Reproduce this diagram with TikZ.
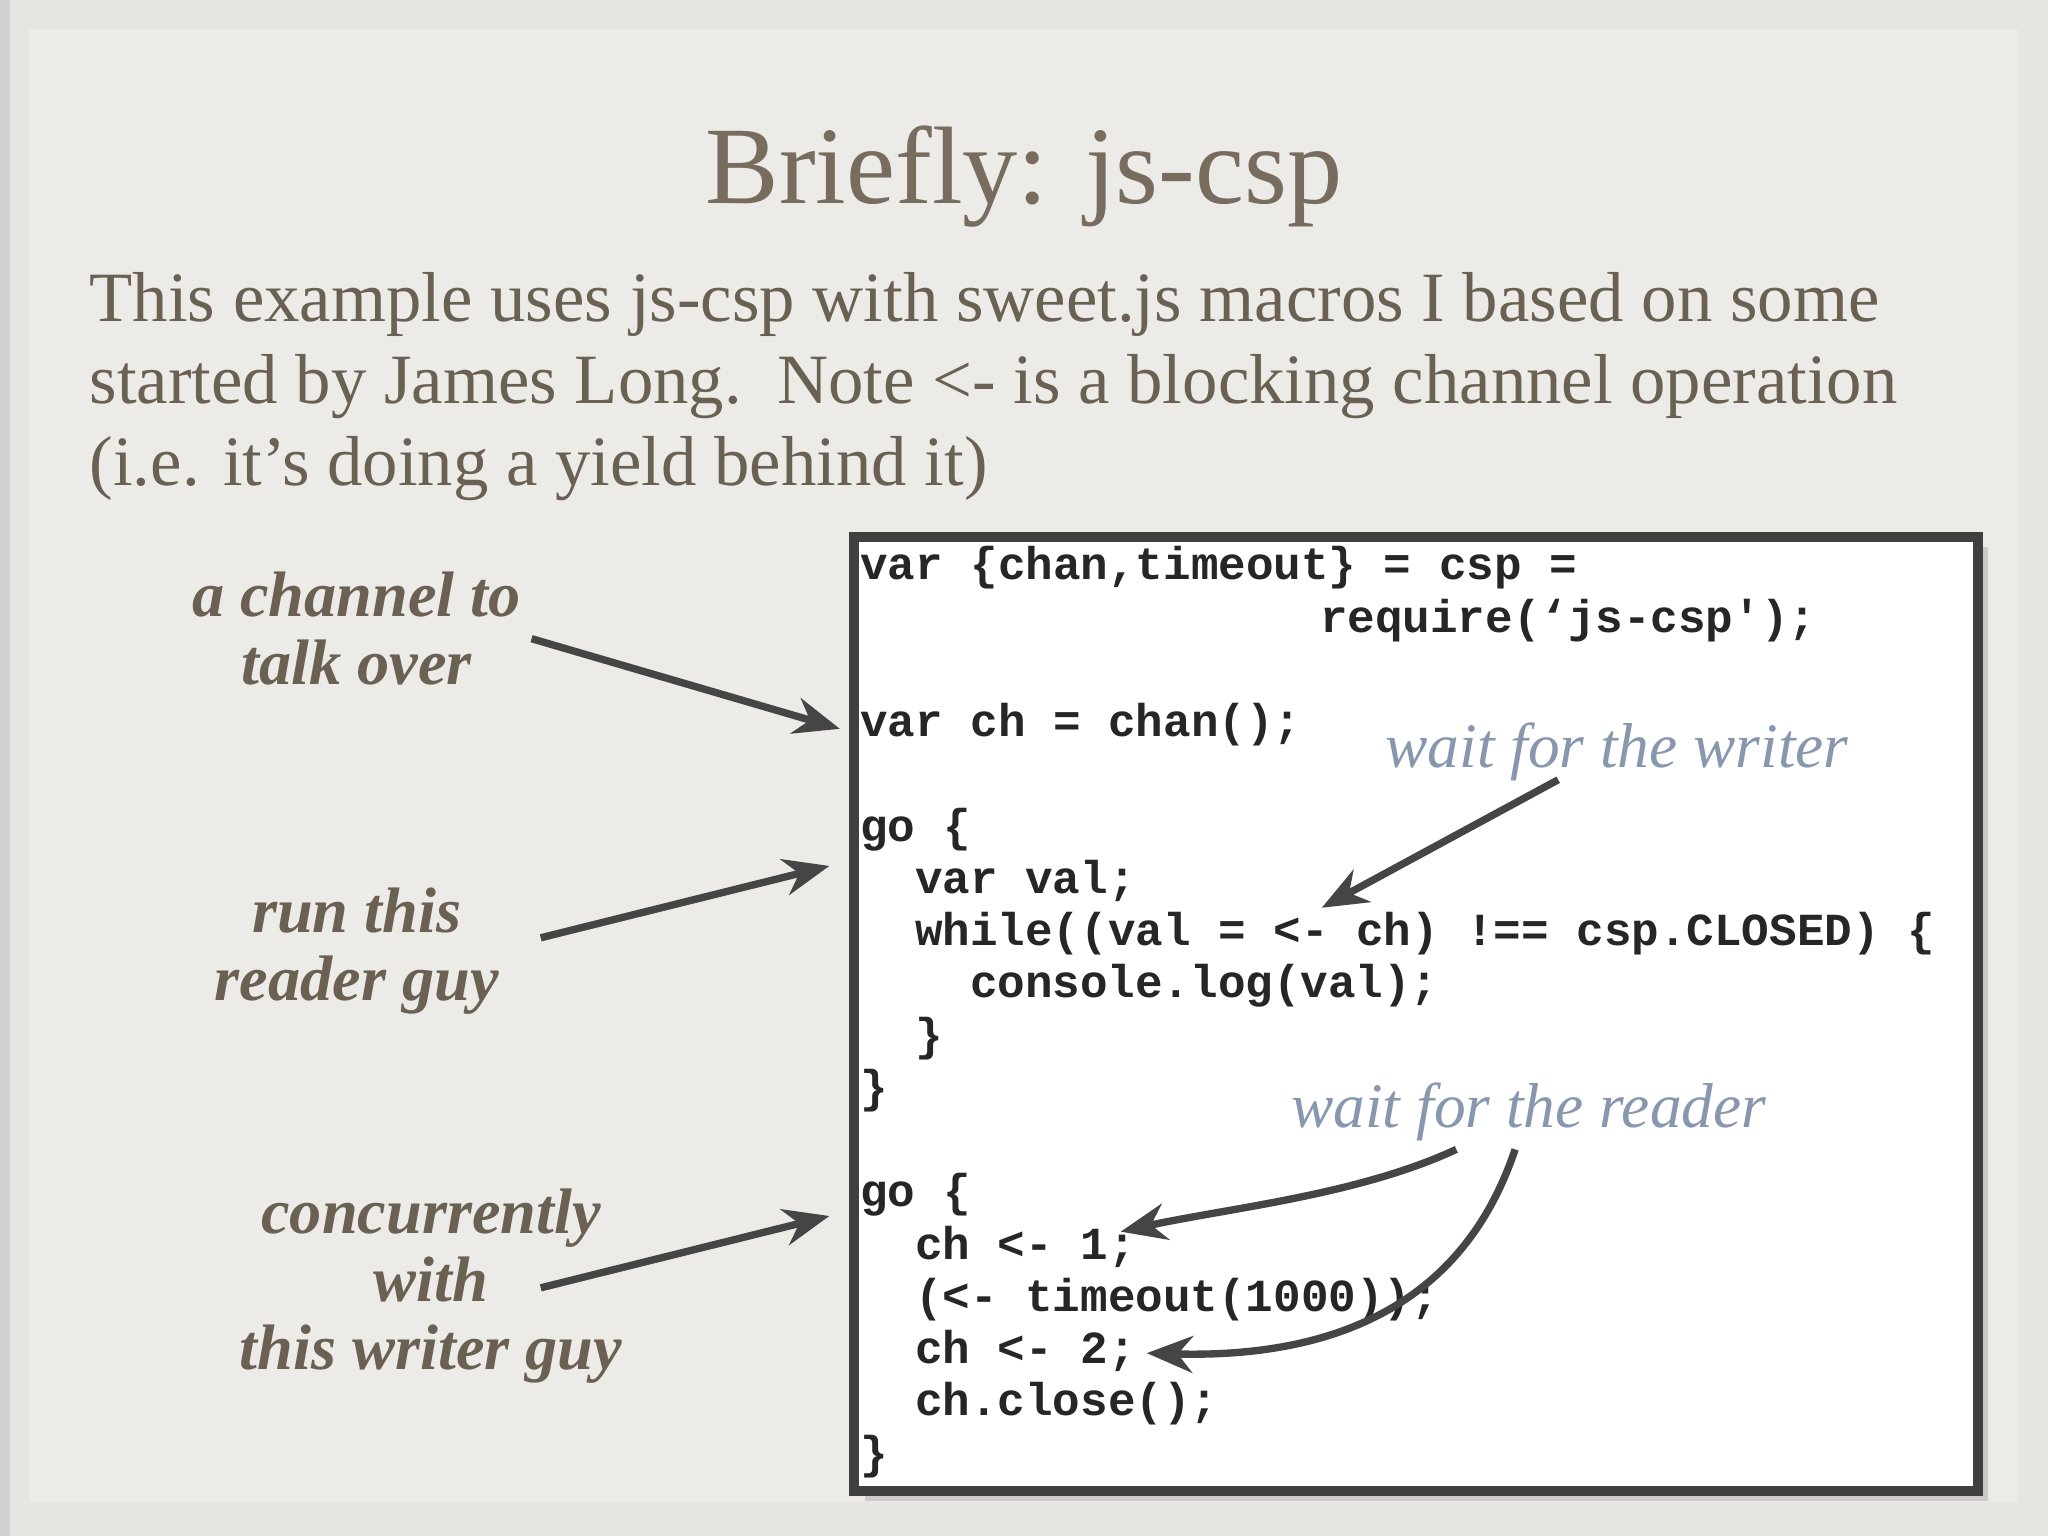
\documentclass[tikz,border=0pt]{standalone}
\usepackage{fontspec}
\setmainfont{Liberation Serif}
\newfontfamily\codefont{Liberation Mono}
\usetikzlibrary{arrows.meta,shadows}
\definecolor{bg}{HTML}{E6E5E1}
\definecolor{bginner}{HTML}{ECEBE8}
\definecolor{titlec}{HTML}{776C5E}
\definecolor{labc}{HTML}{6A6153}
\definecolor{bluec}{HTML}{8797AE}
\definecolor{arr}{HTML}{454545}
\tikzset{
  codeline/.style={anchor=base west,inner sep=0pt,font=\codefont\bfseries\fontsize{10pt}{11pt}\selectfont,text=black!85},
  leftlab/.style={align=center,text=labc,font=\bfseries\itshape\fontsize{14pt}{14.8pt}\selectfont},
  bluelab/.style={anchor=base west,inner sep=0pt,text=bluec,font=\itshape\fontsize{13.8pt}{16pt}\selectfont},
  arrow/.style={draw=arr,line width=1.6pt,-{Stealth[length=10pt,width=8pt]}}
}
\begin{document}
\begin{tikzpicture}[x=0.01cm,y=-0.01cm]
\useasboundingbox (0,0) rectangle (1568,1176);
\fill[bg] (0,0) rectangle (1568,1176);
\fill[black!18] (0,0) rectangle (8,1176);
\fill[bginner] (22,22) rectangle (1545,1150);
\node[text=titlec,font=\fontsize{24pt}{26pt}\selectfont] (title) at (784,135) {Briefly: js-csp};
\node[anchor=base west,align=left,text=labc,font=\fontsize{15.4pt}{17.9pt}\selectfont,inner sep=0pt] (body) at (68,372)
{This example uses js-csp with sweet.js macros I based on some\\started by James Long.\ \ Note <- is a blocking channel operation\\(i.e. it’s doing a yield behind it)};
\node[draw=black!75,line width=2.2pt,fill=white,minimum width=8.6cm,minimum height=7.3cm,anchor=north west,drop shadow={opacity=0.3}] (box) at (650,407) {};
\node[codeline] (l1) at (658,444) {var \{chan,timeout\} = csp =};
\node[codeline] (l2) at (1010,484) {require(‘js-csp');};
\node[codeline] (l3) at (658,564) {var ch = chan();};
\node[codeline] (l4) at (658,644) {go \{};
\node[codeline] (l5) at (700,684) {var val;};
\node[codeline] (l6) at (700,724) {while((val = <- ch) !== csp.CLOSED) \{};
\node[codeline] (l7) at (742,764) {console.log(val);};
\node[codeline] (l8) at (700,804) {\}};
\node[codeline] (l9) at (658,844) {\}};
\node[codeline] (l10) at (658,924) {go \{};
\node[codeline] (l11) at (700,964) {ch <- 1;};
\node[codeline] (l12) at (700,1004) {(<- timeout(1000));};
\node[codeline] (l13) at (700,1044) {ch <- 2;};
\node[codeline] (l14) at (700,1084) {ch.close();};
\node[codeline] (l15) at (658,1124) {\}};
\node[leftlab] (lab1) at (273,481) {a channel to\\talk over};
\node[leftlab] (lab2) at (273,728) {run this\\reader guy};
\node[leftlab] (lab3) at (330,985) {concurrently\\with\\this writer guy};
\node[bluelab] (bw) at (1060,588) {wait for the writer};
\node[bluelab] (br) at (988,863) {wait for the reader};
\coordinate (a1s) at (407,489); \coordinate (a1e) at (643,558);
\coordinate (a2s) at (414,718); \coordinate (a2e) at (635,663);
\coordinate (a3s) at (414,986); \coordinate (a3e) at (635,931);
\coordinate (a4s) at (1193,597); \coordinate (a4e) at (1012,695);
\coordinate (a5s) at (1115,880); \coordinate (a5e) at (858,943);
\coordinate (a6s) at (1160,880); \coordinate (a6e) at (878,1036);
\draw[arrow] (a1s) -- (a1e);
\draw[arrow] (a2s) -- (a2e);
\draw[arrow] (a3s) -- (a3e);
\draw[arrow] (a4s) -- (a4e);
\draw[arrow] (a5s) .. controls (1040,915) and (940,925) .. (a5e);
\draw[arrow] (a6s) .. controls (1120,1000) and (1020,1040) .. (a6e);
\end{tikzpicture}
\end{document}
